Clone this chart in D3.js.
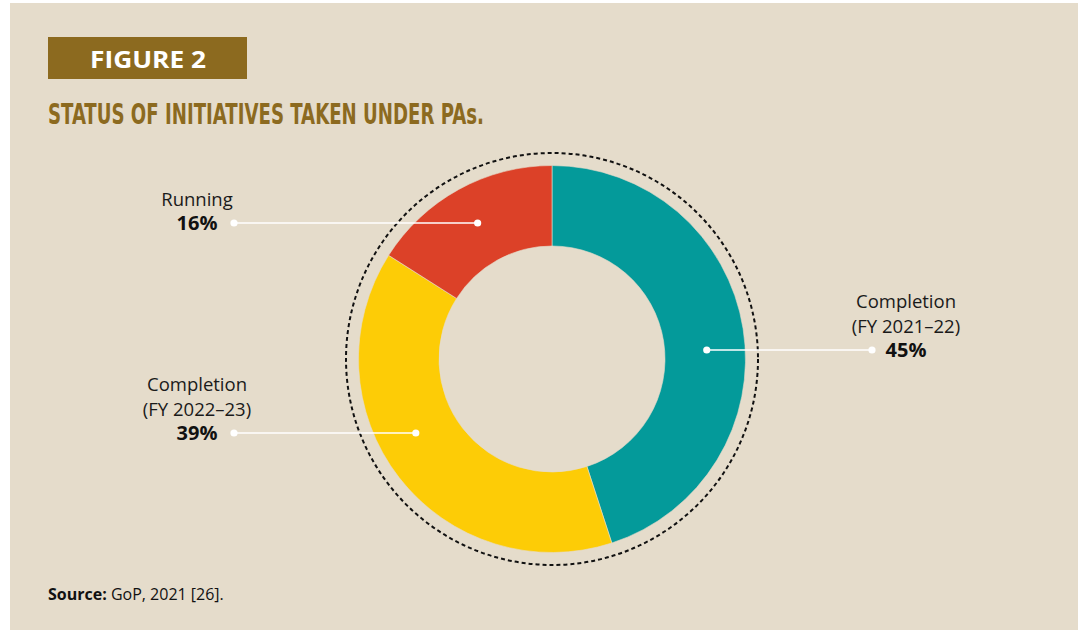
<!DOCTYPE html>
<html><head><meta charset="utf-8">
<script src="https://cdn.jsdelivr.net/npm/d3@7"></script>
<style>
html,body{margin:0;padding:0;background:#fff;}
svg{display:block;}
</style></head>
<body>
<svg id="chart" width="1083" height="634"></svg>
<script>
// ---- data ----
const categories = ["Completion (FY 2021–22)", "Completion (FY 2022–23)", "Running"];
const values = [45, 39, 16];
const labelLines = [["Completion", "(FY 2021–22)"], ["Completion", "(FY 2022–23)"], ["Running"]];
const colors = ["#049A9A", "#FDCC06", "#DC4128"];
const figureLabel = "FIGURE 2";
const title = "STATUS OF INITIATIVES TAKEN UNDER PAs.";
const sourceBold = "Source:";
const sourceText = " GoP, 2021 [26].";

// ---- layout ----
const W = 1083, H = 634;
const cx = 552, cy = 359, rOuter = 193.5, rInner = 113, rDash = 206;
const brown = "#8C6A1F";
const labelLayout = [
  {dy: -9, side: "right", tx: 906, endX: 872},
  {dy: 74, side: "left", tx: 197, endX: 234},
  {dy: -136, side: "left", tx: 197, endX: 234}
];

const svg = d3.select("#chart");
svg.append("rect").attr("x", 10).attr("y", 3).attr("width", 1068).attr("height", 627).attr("fill", "#E5DCCB");

// figure tag
svg.append("rect").attr("x", 48).attr("y", 37).attr("width", 199).attr("height", 42).attr("fill", brown);
svg.append("text").attr("x", 148).attr("y", 67.5).attr("text-anchor", "middle")
  .attr("font-family", "Open Sans, sans-serif").attr("font-weight", 700).attr("font-size", 24)
  .attr("textLength", 116).attr("lengthAdjust", "spacingAndGlyphs")
  .attr("fill", "#fff").text(figureLabel);

// title
svg.append("text").attr("x", 48).attr("y", 124)
  .attr("font-family", "'Liberation Sans Narrow', 'DejaVu Sans Condensed', 'Roboto Condensed', sans-serif")
  .attr("font-stretch", "condensed").attr("font-weight", 700).attr("font-size", 29)
  .attr("textLength", 436).attr("lengthAdjust", "spacingAndGlyphs")
  .attr("fill", brown).text(title);

// donut
const g = svg.append("g").attr("transform", `translate(${cx},${cy})`);
g.append("circle").attr("r", rDash).attr("fill", "none").attr("stroke", "#111")
  .attr("stroke-width", 2).attr("stroke-dasharray", "4,3");

const pie = d3.pie().sort(null).value(d => d.value);
const arcs = pie(values.map((v, i) => ({value: v, name: categories[i], i})));
const arc = d3.arc().innerRadius(rInner).outerRadius(rOuter);
g.selectAll("path.slice").data(arcs).join("path").attr("class", "slice")
  .attr("d", arc).attr("fill", (d, i) => colors[i])
  .attr("stroke", "#E5DCCB").attr("stroke-width", 0.6);

// leader lines and labels
const rMid = 155;
const font = "'Open Sans', 'Noto Sans', sans-serif";
arcs.forEach((a, i) => {
  const L = labelLayout[i];
  const y = cy + L.dy;
  const dxm = Math.sqrt(rMid * rMid - L.dy * L.dy);
  const x1 = L.side === "right" ? cx + dxm : cx - dxm;
  const x2 = L.endX;
  svg.append("line").attr("x1", x1).attr("y1", y).attr("x2", x2).attr("y2", y)
    .attr("stroke", "#fff").attr("stroke-width", 1.6);
  [x1, x2].forEach(x => svg.append("circle").attr("cx", x).attr("cy", y).attr("r", 3.6).attr("fill", "#fff"));
  const lines = labelLines[i];
  const n = lines.length;
  lines.forEach((t, k) => {
    svg.append("text").attr("x", L.tx).attr("y", y + 7 - (n - k) * 24.5)
      .attr("text-anchor", "middle").attr("font-family", font).attr("font-size", 18.5)
      .attr("fill", "#1a1a1a").text(t);
  });
  svg.append("text").attr("x", L.tx).attr("y", y + 7)
    .attr("text-anchor", "middle").attr("font-family", font).attr("font-size", 20)
    .attr("font-weight", 700).attr("fill", "#111").text(values[i] + "%");
});

// source
const st = svg.append("text").attr("x", 48).attr("y", 599.5)
  .attr("font-family", font).attr("font-size", 16).attr("fill", "#111");
st.append("tspan").attr("font-weight", 700).text(sourceBold);
st.append("tspan").text(sourceText);
</script>
</body></html>
